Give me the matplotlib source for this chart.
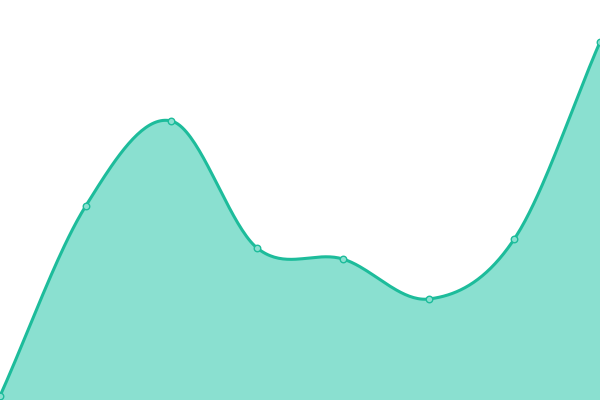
import numpy as np
import matplotlib
matplotlib.use("Agg")
import matplotlib.pyplot as plt

# Data (value scale 0..400)
x_vals = [0, 1, 2, 3, 4, 5, 6, 7]
y_vals = [4, 194, 279, 152, 141, 101, 161, 358]

line_color = "#1dbc9b"
fill_color = "#8ae0d0"


def smooth(xs, ys, steps=40):
    # Catmull-Rom curve through the points, for drawing only
    xs = np.asarray(xs, float)
    ys = np.asarray(ys, float)
    px = np.concatenate([[2 * xs[0] - xs[1]], xs, [2 * xs[-1] - xs[-2]]])
    py = np.concatenate([[2 * ys[0] - ys[1]], ys, [2 * ys[-1] - ys[-2]]])
    out_x, out_y = [], []
    for i in range(1, len(px) - 2):
        t = np.linspace(0, 1, steps, endpoint=False)
        for p, out in ((px, out_x), (py, out_y)):
            p0, p1, p2, p3 = p[i - 1], p[i], p[i + 1], p[i + 2]
            out.extend(0.5 * ((2 * p1) + (-p0 + p2) * t
                              + (2 * p0 - 5 * p1 + 4 * p2 - p3) * t ** 2
                              + (-p0 + 3 * p1 - 3 * p2 + p3) * t ** 3))
    out_x.append(xs[-1])
    out_y.append(ys[-1])
    return np.array(out_x), np.array(out_y)


sx, sy = smooth(x_vals, y_vals)

fig = plt.figure(figsize=(6, 4), dpi=100)
ax = fig.add_axes([0, 0, 1, 1])

ax.fill_between(sx, 0, sy, color=fill_color, linewidth=0)
ax.plot(sx, sy, color=line_color, linewidth=2.2, solid_capstyle="round")
ax.scatter(x_vals, y_vals, s=22, color=fill_color, edgecolor=line_color,
           linewidth=1, zorder=3, clip_on=False)

ax.set_xlim(0, 7)
ax.set_ylim(0, 400)
ax.axis("off")

plt.savefig("out.png", dpi=100)
